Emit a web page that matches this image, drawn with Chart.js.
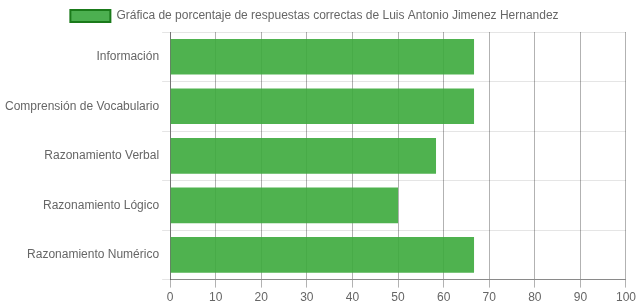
<!DOCTYPE html>
<html><head><meta charset="utf-8">
<script src="https://cdn.jsdelivr.net/npm/chart.js@4"></script>
<style>html,body{margin:0;padding:0;background:#fff}#w{width:639px;height:308px}</style>
</head><body><div id="w"><canvas id="c"></canvas></div>
<script>
const categories = ["Información","Comprensión de Vocabulario","Razonamiento Verbal","Razonamiento Lógico","Razonamiento Numérico"];
const values = [66.67, 66.67, 58.33, 50, 66.67];
const seriesLabel = "Gráfica de porcentaje de respuestas correctas de Luis Antonio Jimenez Hernandez";
const xTicks = [0,10,20,30,40,50,60,70,80,90,100];

Chart.defaults.font.family = "'Liberation Sans', Arial, sans-serif";
Chart.defaults.font.size = 12;
Chart.defaults.color = "#666";

const shiftLegend = { id: 'shiftLegend', afterLayout(chart) { const l = chart.legend; if (l) { l.left -= 6; l.right -= 6; } } };

new Chart(document.getElementById('c'), {
  type: 'bar',
  data: { labels: categories, datasets: [{
    label: seriesLabel, data: values,
    backgroundColor: 'rgba(60,170,60,0.9)', borderWidth: 0
  }]},
  plugins: [shiftLegend],
  options: {
    indexAxis: 'y', responsive: true, maintainAspectRatio: false, animation: false,
    layout: { padding: { left: 2, right: 0, top: 0, bottom: 0 } },
    plugins: {
      legend: { labels: { boxWidth: 40, boxHeight: 12, color: '#666',
        generateLabels: (chart) => [{ text: seriesLabel, fillStyle: 'rgba(76,175,80,1)', strokeStyle: '#1a7a1a', lineWidth: 2, fontColor: '#666', datasetIndex: 0 }] } },
      tooltip: { enabled: false }
    },
    scales: {
      x: { min: 0, max: 100, afterBuildTicks: (a) => { a.ticks = xTicks.map(v => ({ value: v })); },
        grid: { color: 'rgba(0,0,0,0.3)' }, border: { color: 'rgba(0,0,0,0.4)' },
        ticks: { color: '#666', maxRotation: 0 } },
      y: { grid: { color: 'rgba(0,0,0,0.1)' }, border: { color: 'rgba(0,0,0,0.35)' }, ticks: { color: '#666' } }
    }
  }
});
</script></body></html>
